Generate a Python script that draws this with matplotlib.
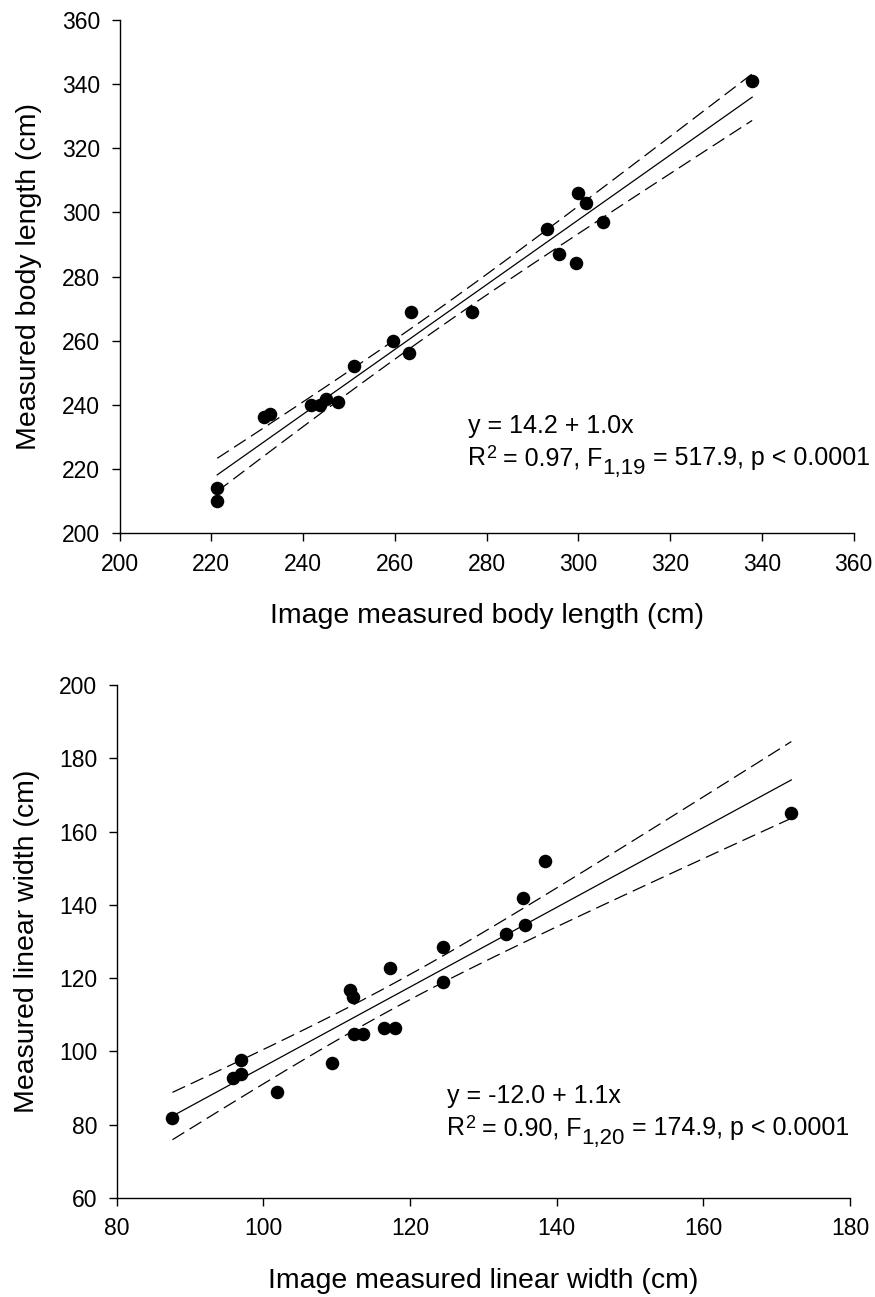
import numpy as np
import matplotlib
matplotlib.use("Agg")
import matplotlib.pyplot as plt
from matplotlib import transforms

plt.rcParams['font.family'] = ['Liberation Sans', 'DejaVu Sans']
plt.rcParams['lines.scale_dashes'] = False

# body length (top panel)
len_img = [221.3, 221.3, 231.6, 232.7, 241.8, 243.6, 245.0, 247.6, 251.2, 259.6,
           263.0, 263.6, 276.9, 293.2, 295.7, 299.5, 300.0, 301.6, 305.4, 337.9]
len_meas = [210.0, 214.2, 236.1, 237.2, 239.8, 239.8, 241.7, 240.9, 252.0, 260.0,
            256.1, 269.1, 269.1, 294.7, 287.1, 284.1, 306.1, 303.0, 297.0, 341.1]

# linear width (bottom panel)
wid_img = [87.6, 95.9, 97.0, 97.0, 101.9, 109.4, 111.8, 112.2, 112.3, 113.6,
           116.5, 118.0, 117.3, 124.5, 124.5, 133.1, 135.4, 135.7, 138.4, 172.0]
wid_meas = [81.9, 92.7, 93.8, 97.8, 88.8, 96.8, 116.8, 114.9, 104.8, 104.8,
            106.5, 106.5, 122.9, 128.4, 118.9, 132.0, 141.9, 134.5, 152.0, 165.0]

len_ticks = [200, 220, 240, 260, 280, 300, 320, 340, 360]
wid_xticks = [80, 100, 120, 140, 160, 180]
wid_yticks = [60, 80, 100, 120, 140, 160, 180, 200]

# equation text: line 1, then line 2 as (R2, F df, rest)
len_eq = ["y = 14.2 + 1.0x", " = 0.97, F", "1,19", " = 517.9, p < 0.0001"]
wid_eq = ["y = -12.0 + 1.1x", " = 0.90, F", "1,20", " = 174.9, p < 0.0001"]

T975 = 2.101  # t quantile, df = 18
FS = 18


def rich_text(ax, x, y, parts):
    # parts: (string, fontsize, vertical shift in points)
    fig = ax.figure
    r = fig.canvas.get_renderer()
    dx = 0.0
    for s, size, dy in parts:
        tr = ax.transData + transforms.ScaledTranslation(dx / 72, dy / 72, fig.dpi_scale_trans)
        t = ax.text(x, y, s, fontsize=size, va='baseline', transform=tr)
        w = t.get_window_extent(renderer=r).width
        dx += w * 72 / fig.dpi


def fit_panel(ax, x, y, xticks, yticks, xlabel, ylabel, eq, eqpos, dy):
    x = np.asarray(x)
    y = np.asarray(y)
    b, a = np.polyfit(x, y, 1)
    xs = np.linspace(x.min(), x.max(), 100)
    yhat = a + b * xs
    res = y - (a + b * x)
    n = len(x)
    s = np.sqrt(np.sum(res ** 2) / (n - 2))
    se = s * np.sqrt(1 / n + (xs - x.mean()) ** 2 / np.sum((x - x.mean()) ** 2))
    ax.plot(xs, yhat, color='black', lw=0.9)
    ax.plot(xs, yhat + T975 * se, color='black', lw=0.9, ls=(0, (10, 4.5)))
    ax.plot(xs, yhat - T975 * se, color='black', lw=0.9, ls=(0, (10, 4.5)))
    ax.scatter(x, y, s=95, color='black', zorder=3, linewidths=0)

    ax.set_xlim(xticks[0], xticks[-1])
    ax.set_ylim(yticks[0], yticks[-1])
    ax.set_xticks(xticks)
    ax.set_yticks(yticks)
    ax.spines['top'].set_visible(False)
    ax.spines['right'].set_visible(False)
    for sp in ('left', 'bottom'):
        ax.spines[sp].set_linewidth(1.0)
    ax.tick_params(direction='out', length=5.5, width=1.0, labelsize=16.5)
    ax.tick_params(axis='x', pad=8.5)
    ax.tick_params(axis='y', pad=8.5)
    ax.set_xlabel(xlabel, fontsize=20.5, labelpad=20)
    ax.set_ylabel(ylabel, fontsize=20.5, labelpad=14)

    ax.text(eqpos[0], eqpos[1], eq[0], fontsize=FS, va='baseline')
    rich_text(ax, eqpos[0], eqpos[1] - dy,
              [("R", FS, 0), ("2", 13, 5), (eq[1], FS, 0),
               (eq[2], 16, -6.5), (eq[3], FS, 0)])


fig = plt.figure(figsize=(8.75, 12.97), dpi=100)
ax1 = fig.add_axes([0.1366, 0.589, 0.8389, 0.3955])
ax2 = fig.add_axes([0.1334, 0.0763, 0.838, 0.3956])

fit_panel(ax1, len_img, len_meas, len_ticks, len_ticks,
          "Image measured body length (cm)", "Measured body length (cm)",
          len_eq, (276, 231.2), 10.0)
fit_panel(ax2, wid_img, wid_meas, wid_xticks, wid_yticks,
          "Image measured linear width (cm)", "Measured linear width (cm)",
          wid_eq, (125.0, 85.9), 8.7)

fig.savefig("out.png", dpi=100)
